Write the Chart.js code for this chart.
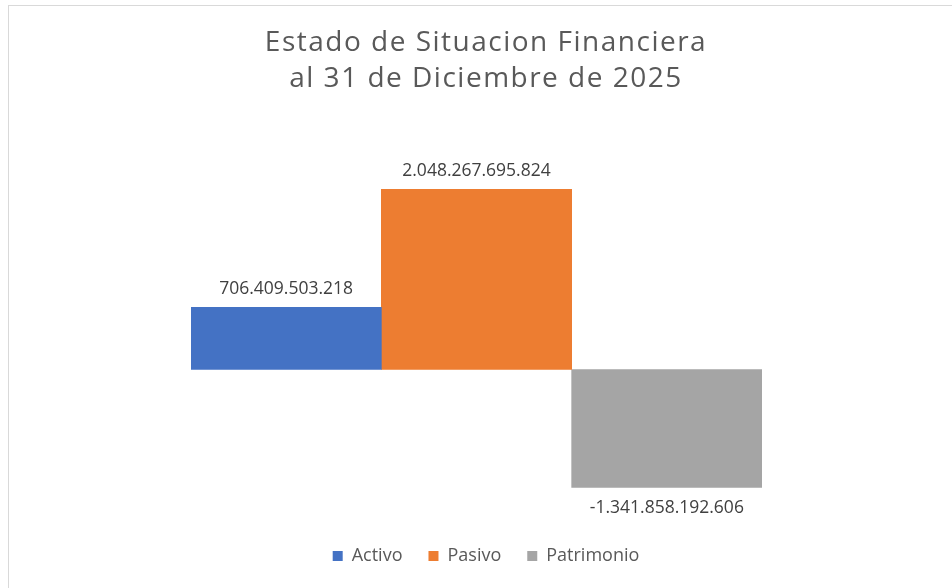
<!DOCTYPE html>
<html lang="es">
<head>
<meta charset="utf-8">
<title>Estado de Situacion Financiera</title>
<script src="https://cdn.jsdelivr.net/npm/chart.js@4.4.1/dist/chart.umd.min.js"></script>
<style>
  html, body { margin: 0; padding: 0; background: #fff; overflow: hidden; }
  #frame { position: absolute; left: 8px; top: 5px; width: 1000px; height: 700px; border: 1px solid #d9d9d9; }
  #chart { display: block; }
</style>
</head>
<body>
<div id="frame"><canvas id="chart" width="954" height="582"></canvas></div>
<script>
// Chart data
const titleLines = ['Estado de Situacion Financiera', 'al 31 de Diciembre de 2025'];
const categories = [''];
const seriesNames = ['Activo', 'Pasivo', 'Patrimonio'];
const seriesValues = [706409503218, 2048267695824, -1341858192606];
const seriesColors = ['#4472C4', '#ED7D31', '#A5A5A5'];

// Format with dot thousands separators
function formatValue(v) {
    return v.toLocaleString('de-DE');
}

// Draw the value above (or below) each bar
const valueLabels = {
    id: 'valueLabels',
    afterDatasetsDraw(chart) {
        const ctx = chart.ctx;
        ctx.save();
        ctx.font = '17.5px "Open Sans"';
        ctx.fillStyle = '#404040';
        ctx.textAlign = 'center';
        ctx.textBaseline = 'middle';
        chart.data.datasets.forEach((ds, i) => {
            chart.getDatasetMeta(i).data.forEach((bar, j) => {
                const v = ds.data[j];
                const y = v >= 0 ? bar.y - 18 : bar.y + 21;
                ctx.fillText(formatValue(v), bar.x, y);
            });
        });
        ctx.restore();
    }
};

// Excel titles are letter-spaced; wrap the title box draw to add spacing
const spacedTitle = {
    id: 'spacedTitle',
    beforeDraw(chart) {
        const box = chart.titleBlock;
        if (box && !box._spaced) {
            const draw = box.draw.bind(box);
            box.draw = function () {
                chart.ctx.save();
                chart.ctx.letterSpacing = '1.5px';
                draw();
                chart.ctx.restore();
            };
            box._spaced = true;
        }
    }
};

const datasets = seriesNames.map((name, i) => ({
    label: name,
    data: [seriesValues[i]],
    backgroundColor: seriesColors[i],
    borderWidth: 0
}));

new Chart(document.getElementById('chart'), {
    type: 'bar',
    data: { labels: categories, datasets: datasets },
    options: {
        responsive: false,
        animation: false,
        barPercentage: 1,
        categoryPercentage: 1,
        layout: { padding: { left: 182, right: 182, top: 0, bottom: 13 } },
        scales: {
            x: { display: false },
            // invisible axis on the right just to push the plot a bit left of the title
            y: {
                position: 'right',
                min: -1723e9,
                max: 2507e9,
                ticks: { display: false },
                grid: { display: false },
                border: { display: false },
                afterFit(scale) { scale.width = 19; }
            }
        },
        plugins: {
            title: {
                display: true,
                text: titleLines,
                color: '#595959',
                font: { family: '"Open Sans"', size: 28, weight: 'normal', lineHeight: 36 / 28 },
                padding: { top: 19, bottom: 52 }
            },
            legend: {
                position: 'bottom',
                labels: {
                    color: '#595959',
                    font: { family: '"Open Sans"', size: 18 },
                    boxWidth: 10,
                    boxHeight: 10,
                    padding: 26
                }
            },
            tooltip: { enabled: false }
        }
    },
    plugins: [valueLabels, spacedTitle]
});
</script>
</body>
</html>
